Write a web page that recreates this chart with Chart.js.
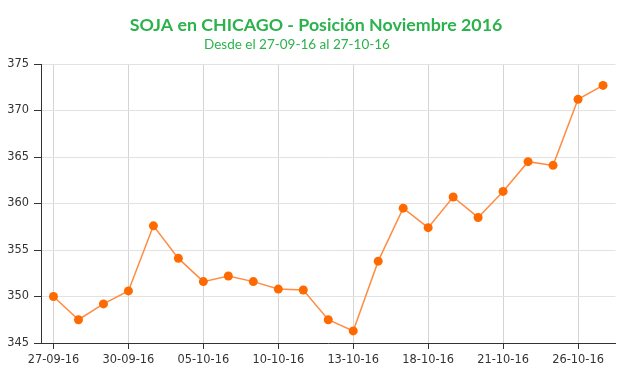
<!DOCTYPE html>
<html lang="es">
<head>
    <meta charset="UTF-8">
    <title>SOJA en CHICAGO - Posición Noviembre 2016</title>
    <script src="https://cdn.jsdelivr.net/npm/chart.js"></script>
    <style>
        html, body { margin: 0; padding: 0; background: #fff; }
        #wrap { width: 620px; height: 375px; position: relative; }
    </style>
</head>
<body>
    <div id="wrap"><canvas id="grafico"></canvas></div>

    <script>
        // Ruedas de negociación (una etiqueta cada tres)
        const fechas = [
            '27-09-16', '28-09-16', '29-09-16', '30-09-16', '03-10-16', '04-10-16',
            '05-10-16', '06-10-16', '07-10-16', '10-10-16', '11-10-16', '12-10-16',
            '13-10-16', '14-10-16', '17-10-16', '18-10-16', '19-10-16', '20-10-16',
            '21-10-16', '24-10-16', '25-10-16', '26-10-16', '27-10-16'
        ];
        // Precio soja noviembre (US$/t)
        const precios = [
            350.0, 347.5, 349.2, 350.6, 357.6, 354.1, 351.6, 352.2, 351.6, 350.8,
            350.7, 347.5, 346.3, 353.8, 359.5, 357.4, 360.7, 358.5, 361.3, 364.5,
            364.1, 371.2, 372.7
        ];
        const ejeY = { min: 345, max: 375, paso: 5 };

        const titulo = 'SOJA en CHICAGO - Posición Noviembre 2016';
        const subtitulo = 'Desde el 27-09-16 al 27-10-16';

        // título y subtítulo dibujados a mano (no están centrados igual)
        const titulos = {
            id: 'titulos',
            afterDraw(chart) {
                const ctx = chart.ctx;
                ctx.save();
                ctx.fillStyle = '#2bb24c';
                ctx.textAlign = 'center';
                ctx.textBaseline = 'alphabetic';
                ctx.font = 'bold 17.8px Lato';
                ctx.fillText(titulo, 316, 31);
                ctx.font = '13.5px Lato';
                ctx.fillText(subtitulo, 297, 49);
                ctx.restore();
            }
        };

        const marca = (c) => c.index % 3 === 0;

        new Chart(document.getElementById('grafico'), {
            type: 'line',
            data: {
                labels: fechas,
                datasets: [{
                    label: 'Soja',
                    data: precios,
                    borderColor: '#ff8c42',
                    borderWidth: 1.5,
                    backgroundColor: '#ff6a00',
                    pointBackgroundColor: '#ff6a00',
                    pointBorderColor: '#ff6a00',
                    pointRadius: 4.5,
                    pointBorderWidth: 0,
                    tension: 0,
                    fill: false
                }]
            },
            options: {
                responsive: true,
                maintainAspectRatio: false,
                animation: false,
                layout: { padding: { top: 64, right: 4, left: 0, bottom: 0 } },
                plugins: {
                    legend: { display: false },
                    tooltip: { enabled: false }
                },
                scales: {
                    x: {
                        offset: true,
                        afterFit: (s) => { s.height = 32; },
                        border: { color: '#333', width: 1 },
                        grid: {
                            color: (c) => marca(c) ? '#d4d4d4' : 'rgba(0,0,0,0)',
                            tickColor: (c) => marca(c) ? '#333' : 'rgba(0,0,0,0)',
                            tickLength: 6
                        },
                        ticks: {
                            autoSkip: false,
                            maxRotation: 0,
                            padding: 4,
                            color: '#333',
                            font: { family: 'DejaVu Sans', size: 11.4 },
                            callback: function (v, i) { return i % 3 === 0 ? this.getLabelForValue(v) : ''; }
                        }
                    },
                    y: {
                        min: ejeY.min,
                        max: ejeY.max,
                        afterFit: (s) => { s.width = 41; },
                        border: { color: '#333', width: 1 },
                        grid: { color: '#e2e2e2', tickColor: '#333', tickLength: 7 },
                        ticks: {
                            stepSize: ejeY.paso,
                            padding: 5,
                            color: '#333',
                            font: { family: 'DejaVu Sans', size: 11.4 }
                        }
                    }
                }
            },
            plugins: [titulos]
        });
    </script>
</body>
</html>
